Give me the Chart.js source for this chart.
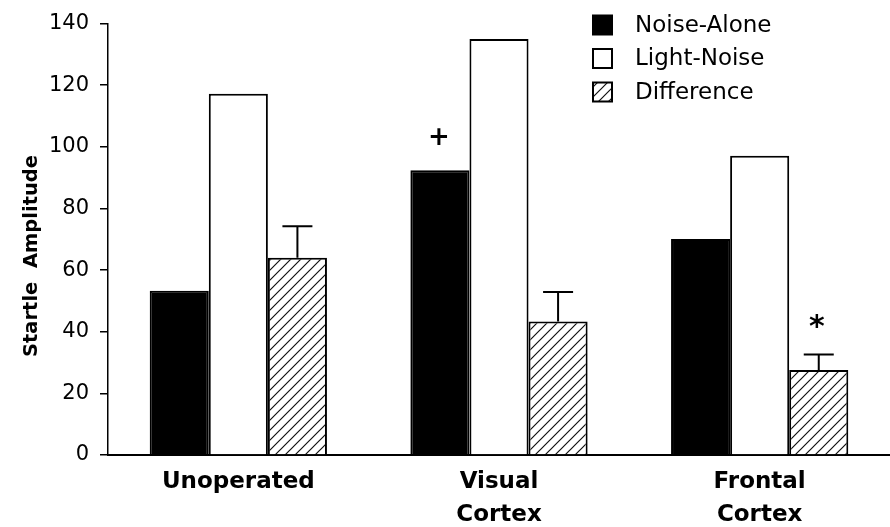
<!DOCTYPE html>
<html>
<head>
<meta charset="utf-8">
<script src="https://cdn.jsdelivr.net/npm/chart.js@4.4.1/dist/chart.umd.min.js"></script>
<style>
  html, body { margin: 0; padding: 0; background: #fff; }
  #wrap { width: 890px; height: 527px; }
</style>
</head>
<body>
<div id="wrap"><canvas id="c" width="890" height="527"></canvas></div>
<script>
// ---- data ----
const categories = ["Unoperated", ["Visual", "Cortex"], ["Frontal", "Cortex"]];
const seriesNames = ["Noise-Alone", "Light-Noise", "Difference"];
const noiseAlone = [53.3, 92.4, 70.1];
const lightNoise = [117.2, 135.0, 97.1];
const difference = [64.0, 43.3, 27.6];
const differenceErr = [10.2, 9.6, 5.0];
const yTicks = [0, 20, 40, 60, 80, 100, 120, 140];
const yTitle = "Startle  Amplitude";
// markers: [series index, category index, symbol, reference: 'bar' or 'err']
const markers = [[0, 1, "+", "bar"], [2, 2, "*", "err"]];

// ---- styles ----
function hatch() {
  const c = document.createElement('canvas');
  c.width = 10; c.height = 10;
  const g = c.getContext('2d');
  g.fillStyle = '#fff'; g.fillRect(0, 0, 10, 10);
  g.strokeStyle = '#111'; g.lineWidth = 1.2;
  g.beginPath();
  g.moveTo(0, 10); g.lineTo(10, 0);
  g.moveTo(-5, 5); g.lineTo(5, -5);
  g.moveTo(5, 15); g.lineTo(15, 5);
  g.stroke();
  return g.createPattern(c, 'repeat');
}
const ctx0 = document.getElementById('c').getContext('2d');
const hatchPat = hatch();
const fills = ['#000', '#fff', hatchPat];

const errPlugin = {
  id: 'errbars',
  afterDatasetsDraw(chart) {
    const ctx = chart.ctx;
    const y = chart.scales.y;
    const meta = chart.getDatasetMeta(2);
    ctx.save();
    ctx.strokeStyle = '#000';
    ctx.lineWidth = 2;
    meta.data.forEach((bar, i) => {
      const top = y.getPixelForValue(difference[i] + differenceErr[i]);
      const base = y.getPixelForValue(difference[i]);
      ctx.beginPath();
      ctx.moveTo(bar.x, base); ctx.lineTo(bar.x, top);
      ctx.moveTo(bar.x - 15, top); ctx.lineTo(bar.x + 15, top);
      ctx.stroke();
    });
    ctx.fillStyle = '#000';
    ctx.textAlign = 'center';
    ctx.textBaseline = 'middle';
    markers.forEach(([ds, idx, sym, ref]) => {
      const bar = chart.getDatasetMeta(ds).data[idx];
      const v = chart.data.datasets[ds].data[idx] + (ref === 'err' ? differenceErr[idx] : 0);
      const py = y.getPixelForValue(v);
      if (sym === '+') {
        ctx.font = 'bold 26px "DejaVu Sans"';
        ctx.fillText(sym, bar.x - 1, py - 32);
      } else {
        ctx.font = 'bold 30px "DejaVu Sans"';
        ctx.fillText(sym, bar.x - 2, py - 26);
      }
    });
    ctx.restore();
  },
  afterDraw(chart) {
    const ctx = chart.ctx;
    ctx.save();
    ctx.translate(37, 256);
    ctx.rotate(-Math.PI / 2);
    ctx.font = 'bold 19.5px "DejaVu Sans"';
    ctx.fillStyle = '#000';
    ctx.textAlign = 'center';
    ctx.textBaseline = 'alphabetic';
    ctx.fillText(yTitle, 0, 0);
    ctx.restore();
    ctx.save();
    chart.data.datasets.forEach((ds, i) => {
      const cy = 25 + i * 33.5;
      const bx = 593, bs = 19;
      ctx.fillStyle = ds.backgroundColor;
      ctx.fillRect(bx, cy - bs / 2, bs, bs);
      ctx.strokeStyle = '#000'; ctx.lineWidth = 2;
      ctx.strokeRect(bx, cy - bs / 2, bs, bs);
      ctx.fillStyle = '#000';
      ctx.font = '23px "DejaVu Sans"';
      ctx.textAlign = 'left';
      ctx.textBaseline = 'middle';
      ctx.fillText(ds.label, 635, cy + 1);
    });
    ctx.restore();
  }
};

new Chart(ctx0, {
  type: 'bar',
  data: {
    labels: categories,
    datasets: seriesNames.map((n, i) => ({
      label: n,
      data: [noiseAlone, lightNoise, difference][i],
      backgroundColor: fills[i],
      borderColor: '#000',
      borderWidth: 2,
      barPercentage: 1.0,
      categoryPercentage: 0.68
    }))
  },
  options: {
    responsive: false,
    animation: false,
    devicePixelRatio: 1,
    layout: { padding: { top: 16, right: 0, left: 0, bottom: 0 } },
    plugins: { legend: { display: false }, tooltip: { enabled: false } },
    scales: {
      x: {
        grid: { display: false },
        border: { display: true, color: '#000', width: 2 },
        ticks: {
          color: '#000',
          font: { family: 'DejaVu Sans', weight: 'bold', size: 23, lineHeight: 1.43 },
          padding: 3,
          maxRotation: 0, autoSkip: false
        },
        afterFit(s) { s.height = 72; }
      },
      y: {
        min: 0, max: 140,
        afterBuildTicks(s) { s.ticks = yTicks.map(v => ({ value: v })); },
        grid: { display: true, drawOnChartArea: false, drawTicks: true, tickLength: 8, color: '#000', lineWidth: 1.5 },
        border: { display: true, color: '#000', width: 1.5 },
        ticks: {
          color: '#000',
          font: { family: 'DejaVu Sans', size: 21 },
          padding: 11
        },
        afterFit(s) { s.width = 108; }
      }
    }
  },
  plugins: [errPlugin]
});
</script>
</body>
</html>
